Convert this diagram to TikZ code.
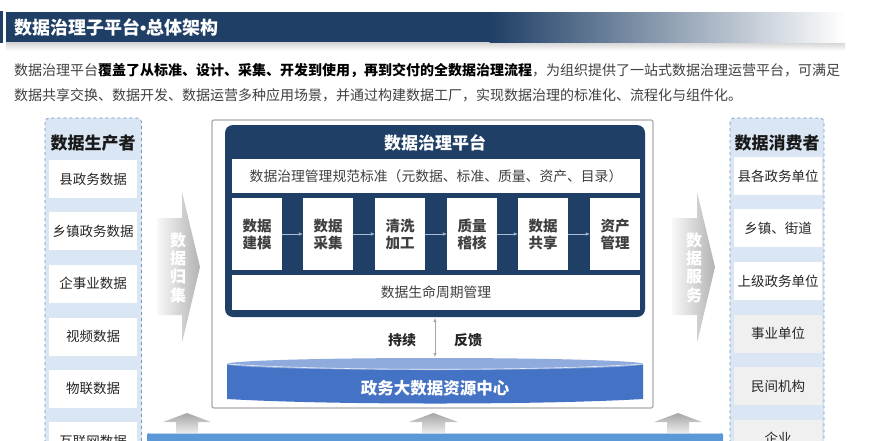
\documentclass[tikz,border=0pt]{standalone}
\usepackage{fontspec}
\setmainfont{Noto Sans CJK SC}
\newfontfamily\latinf{Liberation Sans}
\usetikzlibrary{arrows.meta}
\definecolor{navy}{HTML}{1F3F66}
\definecolor{panelfill}{HTML}{DAE6F3}
\definecolor{paneldash}{HTML}{7393BC}
\definecolor{txtgray}{HTML}{404040}
\definecolor{cylblue}{HTML}{4472C4}
\definecolor{cyltop}{HTML}{8FAADC}
\definecolor{barblue}{HTML}{5B98D8}
\definecolor{flowline}{HTML}{A9BCD6}
\definecolor{lightbox}{HTML}{F0F0F0}
\tikzset{
  panel/.style={draw=paneldash, dashed, line width=0.7pt, fill=panelfill, rounded corners=4pt},
  itembox/.style={fill=white, inner sep=0pt, minimum width=88pt, minimum height=38pt, text=black!85, font=\fontsize{13.5}{15}\selectfont},
  grayitem/.style={itembox, fill=lightbox},
  paneltitle/.style={font=\fontsize{17}{19}\selectfont\bfseries, text=black!90},
  stepbox/.style={fill=white, inner sep=0pt, minimum width=50pt, minimum height=72pt, align=center, text=black!75, font=\fontsize{14.5}{17}\selectfont\bfseries},
  widebox/.style={fill=white, inner sep=0pt, text=txtgray, font=\fontsize{13.8}{16}\selectfont},
  flow/.style={draw=flowline, line width=0.6pt, -{Latex[length=4pt,width=3.5pt]}},
  vtext/.style={align=center, text=white, font=\fontsize{16}{18.3}\selectfont\bfseries},
  hshade/.style={left color=gray!5, right color=gray!60},
  ushade/.style={top color=gray!70, bottom color=gray!12},
}
\begin{document}
\begin{tikzpicture}[x=1pt,y=-1pt]
\useasboundingbox (0,0) rectangle (869,440);
\begin{scope}
\clip (0,0) rectangle (869,440);
% title bar
\fill[navy] (0,11) rectangle (2.5,43);
\shade[top color=gray!35, bottom color=white] (6,42) rectangle (845,51);
\fill[navy] (6,12) rectangle (490,42);
\shade[left color=navy, right color=white] (489.5,12) rectangle (845,42);
\node[anchor=west, text=white, font=\fontsize{18}{20}\selectfont\bfseries, inner sep=0pt] (title) at (14,27) {数据治理子平台{\latinf\bfseries •}总体架构};
% paragraph
\node[anchor=west, inner sep=0pt, text=txtgray, font=\fontsize{14}{16}\selectfont] (para1) at (14,70) {数据治理平台\textcolor{black}{\bfseries 覆盖了从标准、设计、采集、开发到使用，再到交付的全数据治理流程}，为组织提供了一站式数据治理运营平台，可满足};
\node[anchor=west, inner sep=0pt, text=txtgray, font=\fontsize{14}{16}\selectfont] (para2) at (14,95) {数据共享交换、数据开发、数据运营多种应用场景，并通过构建数据工厂，实现数据治理的标准化、流程化与组件化。};

% left panel
\draw[panel] (45,118) rectangle (141.5,460);
\node[paneltitle] (lt) at (93,143) {数据生产者};
\node[itembox] (l1) at (93,179) {县政务数据};
\node[itembox] (l2) at (93,231) {乡镇政务数据};
\node[itembox] (l3) at (93,283.5) {企事业数据};
\node[itembox] (l4) at (93,336.5) {视频数据};
\node[itembox] (l5) at (93,388.5) {物联数据};
\node[itembox] (l6) at (93,441) {互联网数据};

% right panel
\draw[panel] (730,118) rectangle (824,460);
\node[paneltitle] (rt) at (777,143) {数据消费者};
\node[itembox] (r1) at (778,176) {县各政务单位};
\node[itembox] (r2) at (778,228) {乡镇、街道};
\node[itembox] (r3) at (778,281) {上级政务单位};
\node[grayitem] (r4) at (778,333.5) {事业单位};
\node[grayitem] (r5) at (778,386) {民间机构};
\node[grayitem] (r6) at (778,438.5) {企业};

% side arrows
\shade[hshade] (157,218) -- (182,218) -- (182,192) -- (200,267) -- (182,343) -- (182,315) -- (157,315) -- cycle;
\node[vtext] (collect) at (178,267.5) {数\\据\\归\\集};
\shade[hshade] (672,218) -- (697,218) -- (697,192) -- (715,267) -- (697,343) -- (697,315) -- (672,315) -- cycle;
\node[vtext] (serve) at (694,267.5) {数\\据\\服\\务};

% central frame
\draw[gray!65, line width=1.3pt, fill=white, rounded corners=2pt] (212,120) rectangle (653,408);
\fill[navy, rounded corners=8pt] (225,125) rectangle (645,317);
\node[text=white, font=\fontsize{17}{19}\selectfont\bfseries] (pt) at (435,143) {数据治理平台};
\node[widebox, minimum width=408pt, minimum height=34pt] (std) at (436,176) {数据治理管理规范标准（元数据、标准、质量、资产、目录）};
\node[stepbox] (s1) at (257,234) {数据\\建模};
\node[stepbox] (s2) at (328,234) {数据\\采集};
\node[stepbox] (s3) at (400,234) {清洗\\加工};
\node[stepbox] (s4) at (472,234) {质量\\稽核};
\node[stepbox] (s5) at (543,234) {数据\\共享};
\node[stepbox] (s6) at (615,234) {资产\\管理};
\draw[flow] (s1) -- (s2);
\draw[flow] (s2) -- (s3);
\draw[flow] (s3) -- (s4);
\draw[flow] (s4) -- (s5);
\draw[flow] (s5) -- (s6);
\node[widebox, minimum width=408pt, minimum height=35pt] (life) at (436,292.5) {数据生命周期管理};

% feedback arrow
\coordinate (fa) at (435,318);
\coordinate (fb) at (435,357);
\draw[gray!70, line width=0.6pt, {Latex[length=4pt,width=3.5pt]}-{Latex[length=4pt,width=3.5pt]}] (fa) -- (fb);
\node[font=\fontsize{14}{16}\selectfont\bfseries, text=black!85] (cx) at (402,340) {持续};
\node[font=\fontsize{14}{16}\selectfont\bfseries, text=black!85] (fk) at (468,340) {反馈};

% cylinder
\fill[cylblue] (227,364) -- (227,399) .. controls (330,405) and (540,405) .. (643,399) -- (643,364) -- cycle;
\fill[cyltop] (435,364) ellipse (208 and 6);
\draw[white!80!cyltop, line width=0.6pt] (227,364) .. controls (330,371) and (540,371) .. (643,364);
\node[text=white, font=\fontsize{16.5}{18}\selectfont\bfseries] (center) at (435,388) {政务大数据资源中心};

% up arrows
\shade[ushade] (176,434) -- (176,422) -- (163,422) -- (187,413) -- (211,422) -- (198,422) -- (198,434) -- cycle;
\shade[ushade] (422,434) -- (422,422) -- (409,422) -- (433.5,413) -- (458,422) -- (445,422) -- (445,434) -- cycle;
\shade[ushade] (667,434) -- (667,422) -- (654,422) -- (678,413) -- (702,422) -- (689,422) -- (689,434) -- cycle;

% bottom bar
\fill[barblue, rounded corners=2pt] (147,433) rectangle (723,450);
\draw[white!60!barblue, line width=0.8pt] (149,433.5) -- (721,433.5);
\end{scope}
\end{tikzpicture}
\end{document}
